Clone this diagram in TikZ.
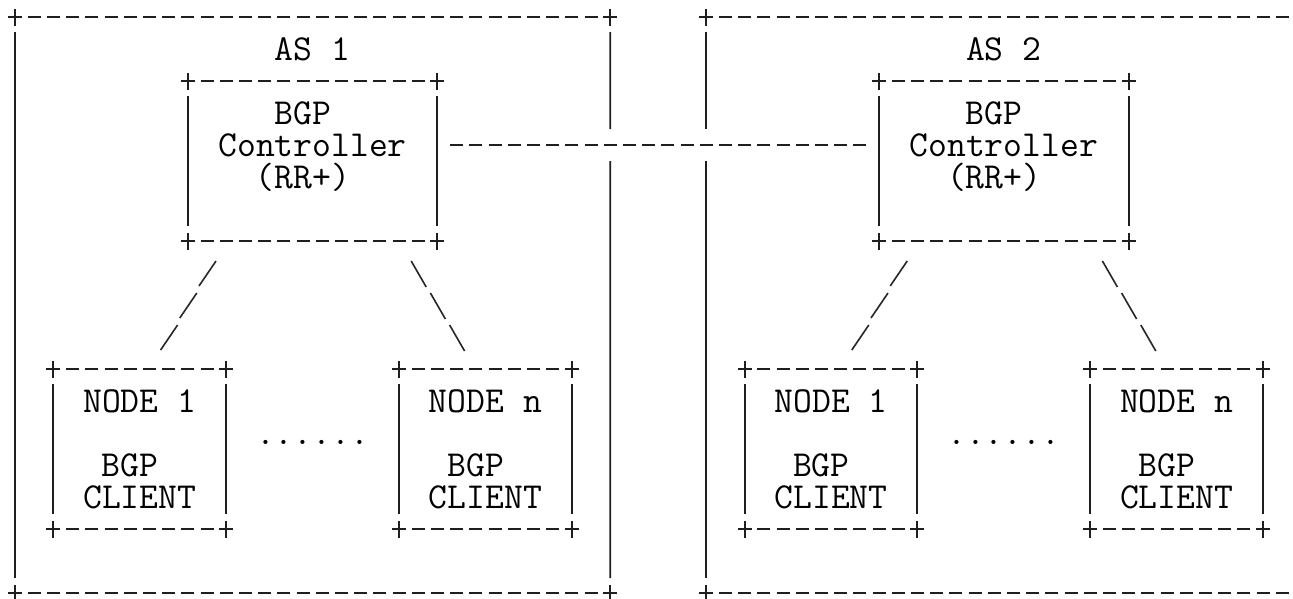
\documentclass[tikz,border=0pt]{standalone}
\usetikzlibrary{calc}
\newcommand{\colx}[1]{(15+19.2*(#1))}
\newcommand{\rowy}[1]{(-17-32*(#1))}
\tikzset{
  hdash/.style={line width=1.9pt, draw=black!88, dash pattern=on 13pt off 6.2pt},
  vbar/.style={line width=1.9pt, draw=black!88},
  plusmark/.style={line width=1.9pt, draw=black!88},
  slashst/.style={line width=1.6pt, draw=black!85},
  boxarea/.style={draw=none, inner sep=0pt, outer sep=0pt, rectangle},
  lbl/.style={inner sep=0pt, anchor=base, font=\fontsize{36.6}{40}\selectfont\ttfamily, text=black},
}
% ascii box: name, c1, r1, c2, r2
\newcommand{\asciibox}[5]{%
  \node[boxarea, minimum width={19.2*((#4)-(#2))}, minimum height={32*((#5)-(#3))}] (#1)
     at ({(\colx{#2}+\colx{#4})/2},{(\rowy{#3}+\rowy{#5})/2}) {};
  \draw[hdash] ([xshift=12.7pt]#1.north west) -- ([xshift=-12.7pt]#1.north east);
  \draw[hdash] ([xshift=12.7pt]#1.south west) -- ([xshift=-12.7pt]#1.south east);
  \draw[vbar] ([yshift=-15pt]#1.north west) -- ([yshift=15pt]#1.south west);
  \draw[vbar] ([yshift=-15pt]#1.north east) -- ([yshift=15pt]#1.south east);
  \foreach \k in {north west,north east,south west,south east}{%
    \draw[plusmark] (#1.\k) +(-7pt,0) -- +(7pt,0) +(0,-8.5pt) -- +(0,8.5pt);}
}
% outer AS box frame (top, bottom, corners): name, c1, c2
\newcommand{\outerbox}[3]{%
  \node[boxarea, minimum width={19.2*((#3)-(#2))}, minimum height={32*18}] (#1)
     at ({(\colx{#2}+\colx{#3})/2},{\rowy{9}}) {};
  \draw[hdash] ([xshift=12.7pt]#1.north west) -- ([xshift=-12.7pt]#1.north east);
  \draw[hdash] ([xshift=12.7pt]#1.south west) -- ([xshift=-12.7pt]#1.south east);
  \foreach \k in {north west,north east,south west,south east}{%
    \draw[plusmark] (#1.\k) +(-7pt,0) -- +(7pt,0) +(0,-8.5pt) -- +(0,8.5pt);}
}
\newcommand{\fwd}[2]{\draw[slashst] ({\colx{#1}+9},{\rowy{#2}+12}) -- ({\colx{#1}-8},{\rowy{#2}-13});}
\newcommand{\bwd}[2]{\draw[slashst] ({\colx{#1}-7},{\rowy{#2}+12}) -- ({\colx{#1}+8},{\rowy{#2}-14});}
% one AS block: prefix, column offset, AS number
\newcommand{\asblock}[3]{%
  \node[lbl] (#1title) at ({\colx{#2+15.5}},{\rowy{1}-11}) {AS #3};
  \asciibox{#1ctl}{#2+9}{2}{#2+22}{7}
  \node[lbl] (#1ctla) at ({\colx{#2+15}},{\rowy{3}-11}) {BGP};
  \node[lbl] (#1ctlb) at ({\colx{#2+15.5}},{\rowy{4}-11}) {Controller};
  \node[lbl] (#1ctlc) at ({\colx{#2+15}},{\rowy{5}-11}) {(RR+)};
  \asciibox{#1na}{#2+2}{11}{#2+11}{16}
  \node[lbl] (#1naa) at ({\colx{#2+6.5}},{\rowy{12}-11}) {NODE 1};
  \node[lbl] (#1nab) at ({\colx{#2+6}},{\rowy{14}-11}) {BGP};
  \node[lbl] (#1nac) at ({\colx{#2+6.5}},{\rowy{15}-11}) {CLIENT};
  \asciibox{#1nb}{#2+20}{11}{#2+29}{16}
  \node[lbl] (#1nba) at ({\colx{#2+24.5}},{\rowy{12}-11}) {NODE n};
  \node[lbl] (#1nbb) at ({\colx{#2+24}},{\rowy{14}-11}) {BGP};
  \node[lbl] (#1nbc) at ({\colx{#2+24.5}},{\rowy{15}-11}) {CLIENT};
  \node[lbl] (#1dots) at ({\colx{#2+15.5}},{\rowy{13}-11}) {......};
  \fwd{#2+10}{8}\fwd{#2+9}{9}\fwd{#2+8}{10}
  \bwd{#2+21}{8}\bwd{#2+22}{9}\bwd{#2+23}{10}
}
\begin{document}
\begin{tikzpicture}[x=1pt,y=1pt]
  \useasboundingbox (0,0) rectangle (1293,-598);
  \fill[white] (0,0) rectangle (1293,-598);
  \clip (0,0) rectangle (1293,-598);
  % outer AS boxes
  \outerbox{asone}{0}{31}
  \outerbox{astwo}{36}{67}
  % verticals of outer boxes (gap where the peering line passes)
  \draw[vbar] ([yshift=-15pt]asone.north west) -- ([yshift=15pt]asone.south west);
  \draw[vbar] ([yshift=-15pt]asone.north east) -- ({\colx{31}},{\rowy{4}+16});
  \draw[vbar] ({\colx{31}},{\rowy{4}-16}) -- ([yshift=15pt]asone.south east);
  \draw[vbar] ([yshift=-15pt]astwo.north west) -- ({\colx{36}},{\rowy{4}+16});
  \draw[vbar] ({\colx{36}},{\rowy{4}-16}) -- ([yshift=15pt]astwo.south west);
  \draw[vbar] ([yshift=-15pt]astwo.north east) -- ([yshift=15pt]astwo.south east);
  % AS contents
  \asblock{a}{0}{1}
  \asblock{b}{36}{2}
  % peering line between controllers (on the "Controller" row)
  \draw[hdash] ([xshift=12.7pt,yshift=16pt]actl.east) -- ([xshift=-12.7pt,yshift=16pt]bctl.west);
\end{tikzpicture}
\end{document}
